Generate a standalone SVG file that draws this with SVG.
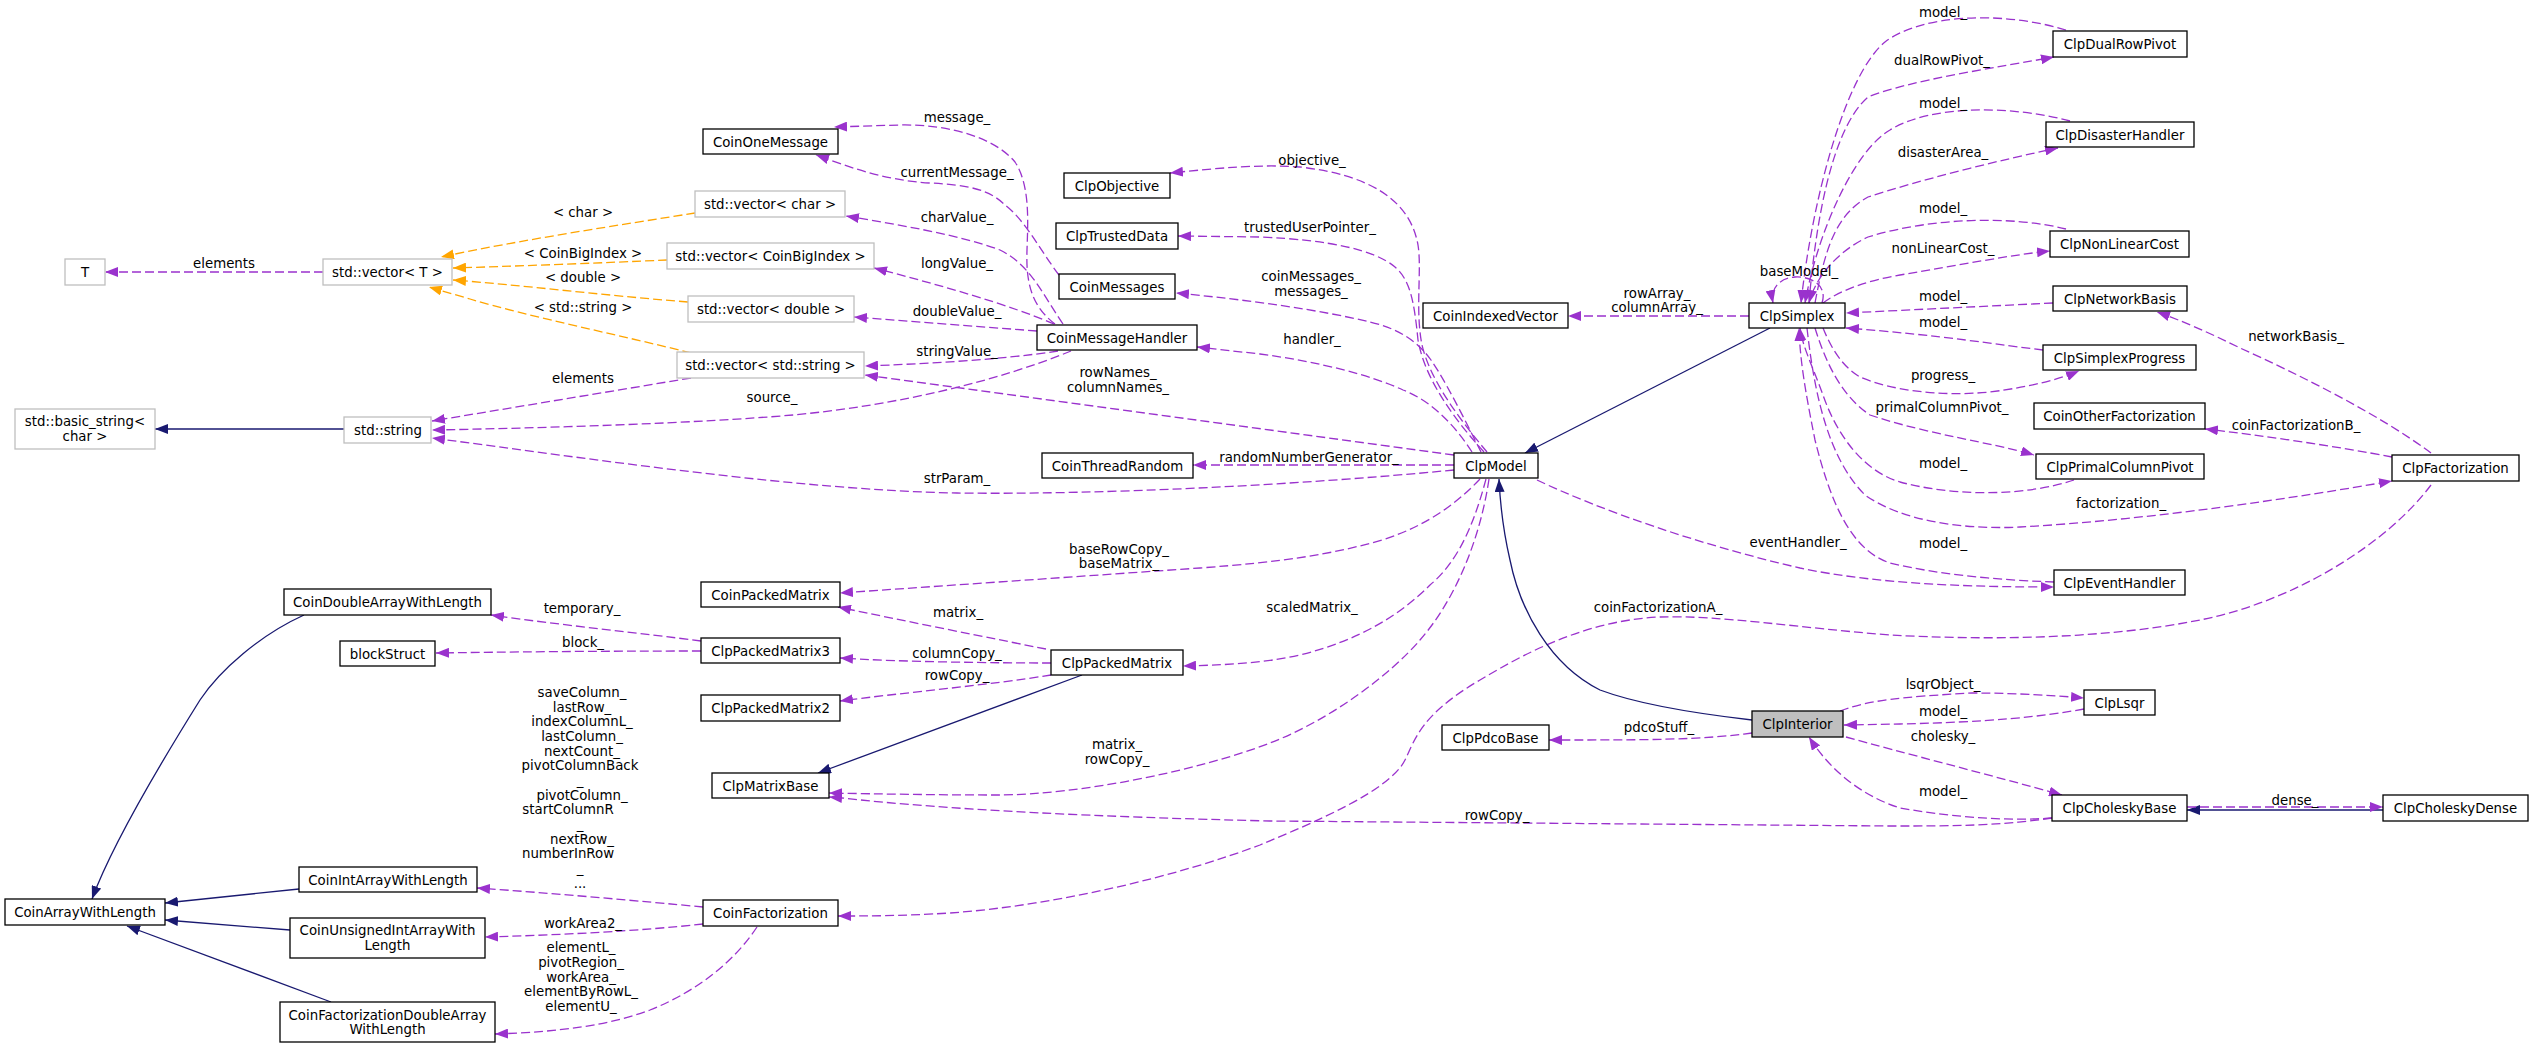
<svg xmlns="http://www.w3.org/2000/svg" width="2533" height="1048" viewBox="0 0 2533 1048">
<style>
text{font-family:"DejaVu Sans","Liberation Sans",sans-serif;font-size:13.33px;fill:#000;text-anchor:middle}
.n rect{fill:#fff;stroke:#000;stroke-width:1.3}
.g rect{fill:#fff;stroke:#bfbfbf;stroke-width:1.3}
.cur rect{fill:#bfbfbf;stroke:#000;stroke-width:1.3}
.p{fill:none;stroke:#9a32cd;stroke-width:1.3;stroke-dasharray:9,4;marker-end:url(#ap)}
.pn{fill:none;stroke:#9a32cd;stroke-width:1.3;stroke-dasharray:9,4}
.o{fill:none;stroke:#ffa500;stroke-width:1.3;stroke-dasharray:9,4;marker-end:url(#ao)}
.b{fill:none;stroke:#191970;stroke-width:1.3;marker-end:url(#ab)}
</style>
<defs>
<marker id="ap" markerUnits="userSpaceOnUse" markerWidth="13" markerHeight="10" refX="13" refY="5" orient="auto"><path d="M0,0 L13,5 L0,10 z" fill="#9a32cd"/></marker>
<marker id="ao" markerUnits="userSpaceOnUse" markerWidth="13" markerHeight="10" refX="13" refY="5" orient="auto"><path d="M0,0 L13,5 L0,10 z" fill="#ffa500"/></marker>
<marker id="ab" markerUnits="userSpaceOnUse" markerWidth="13" markerHeight="10" refX="13" refY="5" orient="auto"><path d="M0,0 L13,5 L0,10 z" fill="#191970"/></marker>
</defs>
<rect width="2533" height="1048" fill="#fff"/>
<g id="edges">
<path class="p" d="M323,272 L105,272"/>
<path class="o" d="M695,213 C620,225 520,240 441,257"/>
<path class="o" d="M667,260 C600,263 520,266 453,268"/>
<path class="o" d="M688,302 C600,295 520,285 453,280"/>
<path class="o" d="M691,353 C620,335 530,317 470,299 L429,287"/>
<path class="p" d="M691,378 L432,421"/>
<path class="p" d="M1071,351 C1000,380 900,405 793,415 C700,423 550,428 432,430"/>
<path class="p" d="M1454,470 C1300,485 1100,495 957,493 C800,490 600,460 432,438"/>
<path class="p" d="M1454,455 L865,375"/>
<path class="p" d="M1058,351 C1000,360 920,364 865,366"/>
<path class="p" d="M1037,331 L854,317"/>
<path class="p" d="M1054,324 C1010,305 940,285 874,268"/>
<path class="p" d="M1063,324 C1040,290 1030,265 1000,250 C960,235 900,225 846,216"/>
<path class="p" d="M1055,324 C1030,305 1026,280 1027,250 C1028,220 1030,185 1015,162 C995,138 950,124 900,125 L834,127"/>
<path class="p" d="M1059,275 C1040,250 1025,220 1005,205 C990,190 970,185 930,183 C880,180 845,165 816,155"/>
<path class="p" d="M1487,452 C1460,420 1430,380 1422,345 C1415,310 1422,270 1418,245 C1410,200 1370,175 1300,167 C1260,164 1220,168 1170,173"/>
<path class="p" d="M1484,452 C1455,420 1425,380 1418,340 C1414,300 1410,280 1395,267 C1375,250 1330,240 1260,237 L1178,236"/>
<path class="p" d="M1481,452 C1465,420 1445,380 1431,360 C1415,338 1395,328 1370,322 C1320,310 1250,300 1176,293"/>
<path class="p" d="M1472,452 C1455,425 1430,400 1403,390 C1370,375 1320,362 1260,354 L1197,347"/>
<path class="p" d="M1454,465 L1193,465"/>
<path class="p" d="M1480,479 C1460,500 1430,525 1382,540 C1330,555 1280,562 1200,568 L840,593"/>
<path class="p" d="M1486,479 C1475,520 1460,560 1430,585 C1400,615 1360,640 1300,655 C1260,664 1220,665 1183,666"/>
<path class="p" d="M1489,479 C1480,540 1455,600 1420,640 C1390,675 1330,720 1270,743 C1200,770 1080,795 997,795 C940,795 880,794 829,793"/>
<path class="p" d="M2052,818 C2000,826 1950,826 1890,826 L1270,821 C1100,817 950,810 842,798 L829,797"/>
<path class="p" d="M1537,480 C1600,510 1700,545 1800,568 C1880,585 1980,587 2054,587"/>
<path class="p" d="M2431,485 C2390,540 2300,600 2200,620 C2100,640 1980,640 1890,635 C1800,628 1720,615 1660,617 C1590,620 1530,650 1480,680 C1420,715 1415,740 1405,760 C1390,790 1320,820 1260,845 C1180,875 1060,905 950,913 C900,916 870,916 838,916"/>
<path class="p" d="M2066,30 C2000,10 1920,15 1885,42 C1845,75 1812,200 1801,303"/>
<path class="p" d="M1809,303 C1815,230 1830,130 1868,97 C1910,80 2000,67 2054,57"/>
<path class="p" d="M2070,121 C2010,105 1930,105 1890,130 C1855,150 1818,230 1805,303"/>
<path class="p" d="M1815,303 C1825,250 1835,215 1868,197 C1920,180 2000,160 2058,148"/>
<path class="p" d="M2066,229 C2010,215 1930,218 1868,237 C1840,250 1816,275 1809,303"/>
<path class="p" d="M1823,303 C1840,290 1870,280 1900,275 C1960,265 2010,255 2050,251"/>
<path class="p" d="M2053,303 L1846,313"/>
<path class="p" d="M2043,350 C2000,345 1940,335 1846,328"/>
<path class="p" d="M1823,328 C1830,345 1840,365 1860,377 C1890,390 1940,397 1990,392 C2030,387 2060,379 2079,371"/>
<path class="p" d="M1815,328 C1825,360 1840,395 1870,415 C1930,435 1990,442 2034,455"/>
<path class="p" d="M2074,480 C2030,495 1960,498 1900,482 C1860,470 1835,430 1823,395 C1812,365 1802,345 1800,328"/>
<path class="p" d="M1807,328 C1815,400 1830,460 1865,495 C1900,520 1960,530 2020,527 C2150,520 2300,497 2392,481"/>
<path class="p" d="M2054,582 C2000,580 1940,575 1890,563 C1850,550 1830,500 1815,440 C1805,390 1800,360 1799,328"/>
<path class="p" d="M1822,303 C1828,285 1810,276 1795,277 C1780,278 1770,288 1773,303"/>
<path class="p" d="M1749,316 L1568,316"/>
<path class="b" d="M1770,328 L1525,453"/>
<path class="b" d="M1752,720 C1700,714 1640,705 1600,690 C1550,665 1520,610 1510,560 C1503,530 1500,500 1499,479"/>
<path class="b" d="M1082,675 L818,773"/>
<path class="b" d="M304,615 C260,635 220,670 200,700 C150,780 110,850 92,899"/>
<path class="b" d="M299,889 L165,903"/>
<path class="b" d="M290,930 L165,920"/>
<path class="b" d="M331,1002 L127,926"/>
<path class="b" d="M344,429 L155,429"/>
<path class="b" d="M2383,810 L2187,810"/>
<path class="p" d="M2187,807 L2383,807"/>
<path class="p" d="M703,907 C640,901 550,893 477,888"/>
<path class="p" d="M703,924 C640,931 560,935 485,937"/>
<path class="p" d="M757,927 C735,960 700,990 650,1010 C610,1025 560,1032 495,1034"/>
<path class="p" d="M1046,649 C1000,640 900,620 838,607"/>
<path class="p" d="M1051,663 C1000,663 900,662 840,658"/>
<path class="p" d="M1051,675 C990,685 900,693 840,701"/>
<path class="p" d="M701,641 C640,633 560,625 491,615"/>
<path class="p" d="M701,651 C600,651 500,652 436,653"/>
<path class="p" d="M1752,733 C1700,740 1650,740 1549,740"/>
<path class="p" d="M1840,711 C1870,700 1900,697 1972,693 C2020,693 2060,696 2084,698"/>
<path class="p" d="M2084,709 C2040,717 1990,722 1900,724 L1844,725"/>
<path class="p" d="M1846,737 C1900,752 1990,775 2062,795"/>
<path class="p" d="M2052,818 C2000,822 1940,815 1900,808 C1860,795 1830,770 1809,737"/>
<path class="p" d="M2392,457 C2340,447 2260,435 2205,429"/>
<path class="p" d="M2431,453 C2380,415 2300,375 2240,348 C2210,333 2180,320 2157,312"/>
<g id="edge-labels">
<text x="224" y="268">elements</text>
<text x="583" y="217">&lt; char &gt;</text>
<text x="583" y="258">&lt; CoinBigIndex &gt;</text>
<text x="583" y="282">&lt; double &gt;</text>
<text x="583" y="312">&lt; std::string &gt;</text>
<text x="583" y="383">elements</text>
<text x="957" y="121.5">message_</text>
<text x="957" y="176.5">currentMessage_</text>
<text x="957" y="221.5">charValue_</text>
<text x="957" y="268">longValue_</text>
<text x="957" y="316">doubleValue_</text>
<text x="957" y="355.5">stringValue_</text>
<text x="772" y="401.5">source_</text>
<text x="1118" y="376.5">rowNames_</text>
<text x="1118" y="391.5">columnNames_</text>
<text x="957" y="483">strParam_</text>
<text x="1312" y="165">objective_</text>
<text x="1310" y="231.5">trustedUserPointer_</text>
<text x="1311" y="281">coinMessages_</text>
<text x="1311" y="295.5">messages_</text>
<text x="1312" y="344">handler_</text>
<text x="1309" y="461.5">randomNumberGenerator_</text>
<text x="1119" y="554">baseRowCopy_</text>
<text x="1119" y="568">baseMatrix_</text>
<text x="958" y="616.5">matrix_</text>
<text x="957" y="657.5">columnCopy_</text>
<text x="957" y="680">rowCopy_</text>
<text x="1312" y="612">scaledMatrix_</text>
<text x="1117" y="748.5">matrix_</text>
<text x="1117" y="763.5">rowCopy_</text>
<text x="1497" y="819.5">rowCopy_</text>
<text x="1658" y="612">coinFactorizationA_</text>
<text x="1798" y="547">eventHandler_</text>
<text x="1659" y="732">pdcoStuff_</text>
<text x="1657" y="297.5">rowArray_</text>
<text x="1657" y="312">columnArray_</text>
<text x="1799" y="275.5">baseModel_</text>
<text x="1943" y="16.5">model_</text>
<text x="1942" y="65">dualRowPivot_</text>
<text x="1943" y="108">model_</text>
<text x="1943" y="156.5">disasterArea_</text>
<text x="1943" y="213">model_</text>
<text x="1943" y="252.5">nonLinearCost_</text>
<text x="1943" y="300.5">model_</text>
<text x="1943" y="327">model_</text>
<text x="2296" y="340.5">networkBasis_</text>
<text x="1943" y="380">progress_</text>
<text x="1942" y="411.5">primalColumnPivot_</text>
<text x="2296" y="430">coinFactorizationB_</text>
<text x="1943" y="467.5">model_</text>
<text x="2121" y="508">factorization_</text>
<text x="1943" y="548">model_</text>
<text x="1943" y="689">lsqrObject_</text>
<text x="1943" y="715.5">model_</text>
<text x="1943" y="740.5">cholesky_</text>
<text x="1943" y="795.5">model_</text>
<text x="2295" y="804.5">dense_</text>
<text x="582" y="613">temporary_</text>
<text x="583" y="647">block_</text>
<text x="582" y="696.8">saveColumn_</text>
<text x="582" y="711.5">lastRow_</text>
<text x="582" y="726.1">indexColumnL_</text>
<text x="582" y="740.8">lastColumn_</text>
<text x="582" y="755.5">nextCount_</text>
<text x="580" y="770.1">pivotColumnBack</text>
<text x="580" y="784.8">_</text>
<text x="582" y="799.5">pivotColumn_</text>
<text x="568" y="814.1">startColumnR</text>
<text x="580" y="828.8">_</text>
<text x="582" y="843.5">nextRow_</text>
<text x="568" y="858.1">numberInRow</text>
<text x="580" y="872.8">_</text>
<text x="580" y="887.5">...</text>
<text x="583" y="928">workArea2_</text>
<text x="581" y="952">elementL_</text>
<text x="581" y="966.8">pivotRegion_</text>
<text x="581" y="981.5">workArea_</text>
<text x="581" y="996.1">elementByRowL_</text>
<text x="581" y="1010.8">elementU_</text>
</g>
</g>
<g id="node-T" class="g"><rect x="65" y="259" width="40" height="26"/><text x="85" y="277">T</text></g>
<g id="node-vectorT" class="g"><rect x="323" y="259" width="129" height="26"/><text x="387.5" y="277">std::vector&lt; T &gt;</text></g>
<g id="node-vectorChar" class="g"><rect x="695" y="191" width="150" height="26"/><text x="770" y="209">std::vector&lt; char &gt;</text></g>
<g id="node-vectorBigIndex" class="g"><rect x="667" y="243" width="207" height="26"/><text x="770.5" y="261">std::vector&lt; CoinBigIndex &gt;</text></g>
<g id="node-vectorDouble" class="g"><rect x="688" y="296" width="166" height="26"/><text x="771" y="314">std::vector&lt; double &gt;</text></g>
<g id="node-vectorString" class="g"><rect x="677" y="352" width="187" height="26"/><text x="770.5" y="370">std::vector&lt; std::string &gt;</text></g>
<g id="node-basicString" class="g"><rect x="15" y="409" width="140" height="40"/><text x="85" y="425.5">std::basic_string&lt;</text><text x="85" y="440.5">char &gt;</text></g>
<g id="node-string" class="g"><rect x="344" y="417" width="87" height="26"/><text x="388" y="435">std::string</text></g>
<g id="node-CoinOneMessage" class="n"><rect x="703" y="129" width="135" height="25"/><text x="770.5" y="146.5">CoinOneMessage</text></g>
<g id="node-CoinMessageHandler" class="n"><rect x="1037" y="325" width="160" height="25"/><text x="1117" y="342.5">CoinMessageHandler</text></g>
<g id="node-ClpObjective" class="n"><rect x="1064" y="173" width="106" height="25"/><text x="1117" y="190.5">ClpObjective</text></g>
<g id="node-ClpTrustedData" class="n"><rect x="1056" y="223" width="122" height="26"/><text x="1117" y="241">ClpTrustedData</text></g>
<g id="node-CoinMessages" class="n"><rect x="1059" y="274" width="116" height="25"/><text x="1117" y="291.5">CoinMessages</text></g>
<g id="node-CoinThreadRandom" class="n"><rect x="1042" y="453" width="151" height="25"/><text x="1117.5" y="470.5">CoinThreadRandom</text></g>
<g id="node-CoinPackedMatrix" class="n"><rect x="701" y="582" width="139" height="25"/><text x="770.5" y="599.5">CoinPackedMatrix</text></g>
<g id="node-ClpPackedMatrix3" class="n"><rect x="701" y="638" width="139" height="25"/><text x="770.5" y="655.5">ClpPackedMatrix3</text></g>
<g id="node-ClpPackedMatrix2" class="n"><rect x="701" y="695" width="139" height="26"/><text x="770.5" y="713">ClpPackedMatrix2</text></g>
<g id="node-ClpPackedMatrix" class="n"><rect x="1051" y="650" width="132" height="25"/><text x="1117" y="667.5">ClpPackedMatrix</text></g>
<g id="node-ClpMatrixBase" class="n"><rect x="712" y="773" width="117" height="25"/><text x="770.5" y="790.5">ClpMatrixBase</text></g>
<g id="node-CoinFactorization" class="n"><rect x="703" y="900" width="135" height="26"/><text x="770.5" y="918">CoinFactorization</text></g>
<g id="node-CoinDoubleArrayWithLength" class="n"><rect x="284" y="589" width="207" height="26"/><text x="387.5" y="607">CoinDoubleArrayWithLength</text></g>
<g id="node-blockStruct" class="n"><rect x="340" y="641" width="95" height="25"/><text x="387.5" y="658.5">blockStruct</text></g>
<g id="node-CoinIntArrayWithLength" class="n"><rect x="299" y="867" width="178" height="25"/><text x="388" y="884.5">CoinIntArrayWithLength</text></g>
<g id="node-CoinUnsignedIntArrayWithLength" class="n"><rect x="290" y="918" width="195" height="40"/><text x="387.5" y="935">CoinUnsignedIntArrayWith</text><text x="387.5" y="949.5">Length</text></g>
<g id="node-CoinFactorizationDoubleArrayWithLength" class="n"><rect x="280" y="1002" width="215" height="40"/><text x="387.5" y="1019.5">CoinFactorizationDoubleArray</text><text x="387.5" y="1033.5">WithLength</text></g>
<g id="node-CoinArrayWithLength" class="n"><rect x="5" y="899" width="160" height="26"/><text x="85" y="917">CoinArrayWithLength</text></g>
<g id="node-ClpModel" class="n"><rect x="1454" y="453" width="84" height="25"/><text x="1496" y="470.5">ClpModel</text></g>
<g id="node-CoinIndexedVector" class="n"><rect x="1423" y="303" width="145" height="25"/><text x="1495.5" y="320.5">CoinIndexedVector</text></g>
<g id="node-ClpSimplex" class="n"><rect x="1749" y="303" width="96" height="25"/><text x="1797" y="320.5">ClpSimplex</text></g>
<g id="node-ClpPdcoBase" class="n"><rect x="1442" y="725" width="107" height="25"/><text x="1495.5" y="742.5">ClpPdcoBase</text></g>
<g id="node-ClpInterior" class="cur"><rect x="1752" y="711" width="91" height="26"/><text x="1797.5" y="729">ClpInterior</text></g>
<g id="node-ClpDualRowPivot" class="n"><rect x="2053" y="31" width="134" height="26"/><text x="2120" y="49">ClpDualRowPivot</text></g>
<g id="node-ClpDisasterHandler" class="n"><rect x="2046" y="122" width="148" height="25"/><text x="2120" y="139.5">ClpDisasterHandler</text></g>
<g id="node-ClpNonLinearCost" class="n"><rect x="2050" y="231" width="139" height="26"/><text x="2119.5" y="249">ClpNonLinearCost</text></g>
<g id="node-ClpNetworkBasis" class="n"><rect x="2053" y="286" width="134" height="25"/><text x="2120" y="303.5">ClpNetworkBasis</text></g>
<g id="node-ClpSimplexProgress" class="n"><rect x="2043" y="345" width="153" height="25"/><text x="2119.5" y="362.5">ClpSimplexProgress</text></g>
<g id="node-CoinOtherFactorization" class="n"><rect x="2034" y="403" width="171" height="26"/><text x="2119.5" y="421">CoinOtherFactorization</text></g>
<g id="node-ClpPrimalColumnPivot" class="n"><rect x="2036" y="454" width="168" height="25"/><text x="2120" y="471.5">ClpPrimalColumnPivot</text></g>
<g id="node-ClpFactorization" class="n"><rect x="2392" y="455" width="127" height="26"/><text x="2455.5" y="473">ClpFactorization</text></g>
<g id="node-ClpEventHandler" class="n"><rect x="2054" y="570" width="131" height="25"/><text x="2119.5" y="587.5">ClpEventHandler</text></g>
<g id="node-ClpLsqr" class="n"><rect x="2084" y="690" width="71" height="25"/><text x="2119.5" y="707.5">ClpLsqr</text></g>
<g id="node-ClpCholeskyBase" class="n"><rect x="2052" y="795" width="135" height="26"/><text x="2119.5" y="813">ClpCholeskyBase</text></g>
<g id="node-ClpCholeskyDense" class="n"><rect x="2383" y="795" width="145" height="26"/><text x="2455.5" y="813">ClpCholeskyDense</text></g>
</svg>
